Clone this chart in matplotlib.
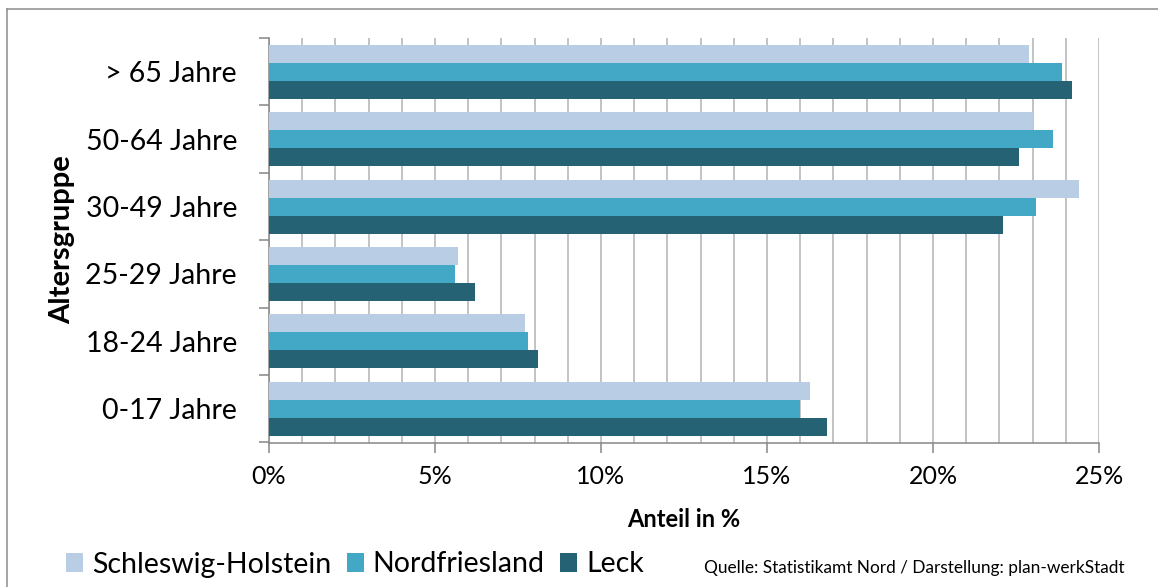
import matplotlib
matplotlib.use("Agg")
import matplotlib.pyplot as plt
from matplotlib.lines import Line2D
from matplotlib.ticker import MultipleLocator, FixedLocator, NullFormatter
import numpy as np

# Age groups, bottom to top
categories = ["0-17 Jahre", "18-24 Jahre", "25-29 Jahre", "30-49 Jahre", "50-64 Jahre", "> 65 Jahre"]
series_names = ["Schleswig-Holstein", "Nordfriesland", "Leck"]
schleswig_holstein = [16.3, 7.7, 5.7, 24.4, 23.0, 22.9]
nordfriesland = [16.0, 7.8, 5.6, 23.1, 23.6, 23.9]
leck = [16.8, 8.1, 6.2, 22.1, 22.6, 24.2]
x_ticks = [0, 5, 10, 15, 20, 25]
x_tick_labels = ["0%", "5%", "10%", "15%", "20%", "25%"]

colors = ["#B9CDE5", "#43A7C6", "#246274"]
spine_grey = "#868686"

plt.rcParams["font.family"] = ["Lato", "DejaVu Sans"]

W, H = 1158, 587
fig = plt.figure(figsize=(W / 100, H / 100), dpi=100)
ax = fig.add_axes([269 / W, 1 - 442.5 / H, (1099 - 269) / W, (442.5 - 38) / H])

y = np.arange(len(categories))
bar_h = 0.8 / 3
values = [schleswig_holstein, nordfriesland, leck]
bars = []
for i, (vals, col, name) in enumerate(zip(values, colors, series_names)):
    offset = (1 - i) * bar_h
    b = ax.barh(y + offset, vals, height=bar_h, color=col, edgecolor="none", label=name, zorder=3)
    bars.append(b)

ax.set_xlim(0, 25)
ax.set_ylim(-0.5, len(categories) - 0.5)

# x axis: major ticks every 5 %, grid every 1 %
ax.xaxis.set_major_locator(FixedLocator(x_ticks))
ax.set_xticklabels(x_tick_labels, fontsize=18)
ax.xaxis.set_minor_locator(MultipleLocator(1))
ax.tick_params(axis="x", which="major", direction="out", length=7.2, width=1.1,
               color=spine_grey, pad=9)
ax.tick_params(axis="x", which="minor", length=0)
ax.grid(axis="x", which="both", color="#BEBEBE", linewidth=1.3, zorder=0)
ax.set_axisbelow(True)

# y axis: ticks at group boundaries, labels at group centres
ax.yaxis.set_major_locator(FixedLocator(np.arange(-0.5, len(categories), 1.0)))
ax.yaxis.set_major_formatter(NullFormatter())
ax.yaxis.set_minor_locator(FixedLocator(y))
ax.set_yticklabels(categories, minor=True, fontsize=20.5)
ax.tick_params(axis="y", which="major", direction="out", length=7.2, width=1.1, color=spine_grey)
ax.tick_params(axis="y", which="minor", length=0, pad=23)

for side in ["top", "right"]:
    ax.spines[side].set_visible(False)
for side in ["left", "bottom"]:
    ax.spines[side].set_color(spine_grey)
    ax.spines[side].set_linewidth(1.1)

fig.text(684 / W, 1 - 519.5 / H, "Anteil in %", fontsize=17, fontweight="bold",
         ha="center", va="center")
fig.text(62 / W, 1 - 240 / H, "Altersgruppe", fontsize=21, fontweight="bold",
         rotation=90, ha="center", va="center")

fig.legend(handles=bars, labels=series_names, ncol=3, loc="center left",
           bbox_to_anchor=(66 / W, 1 - 564.5 / H), frameon=False, fontsize=20.5,
           handlelength=0.6, handleheight=0.6, handletextpad=0.32, columnspacing=0.53,
           borderpad=0, borderaxespad=0)

fig.text(1124 / W, 1 - 572.5 / H, "Quelle: Statistikamt Nord / Darstellung: plan-werkStadt",
         fontsize=12.4, ha="right", va="baseline")

# outer chart frame
frame_kw = dict(color="#8C8C8C", linewidth=1.1, transform=fig.transFigure)
fig.add_artist(Line2D([7 / W, 1.0], [1 - 9 / H, 1 - 9 / H], **frame_kw))
fig.add_artist(Line2D([7 / W, 7 / W], [0.0, 1 - 9 / H], **frame_kw))

fig.savefig("out.png", dpi=100)
